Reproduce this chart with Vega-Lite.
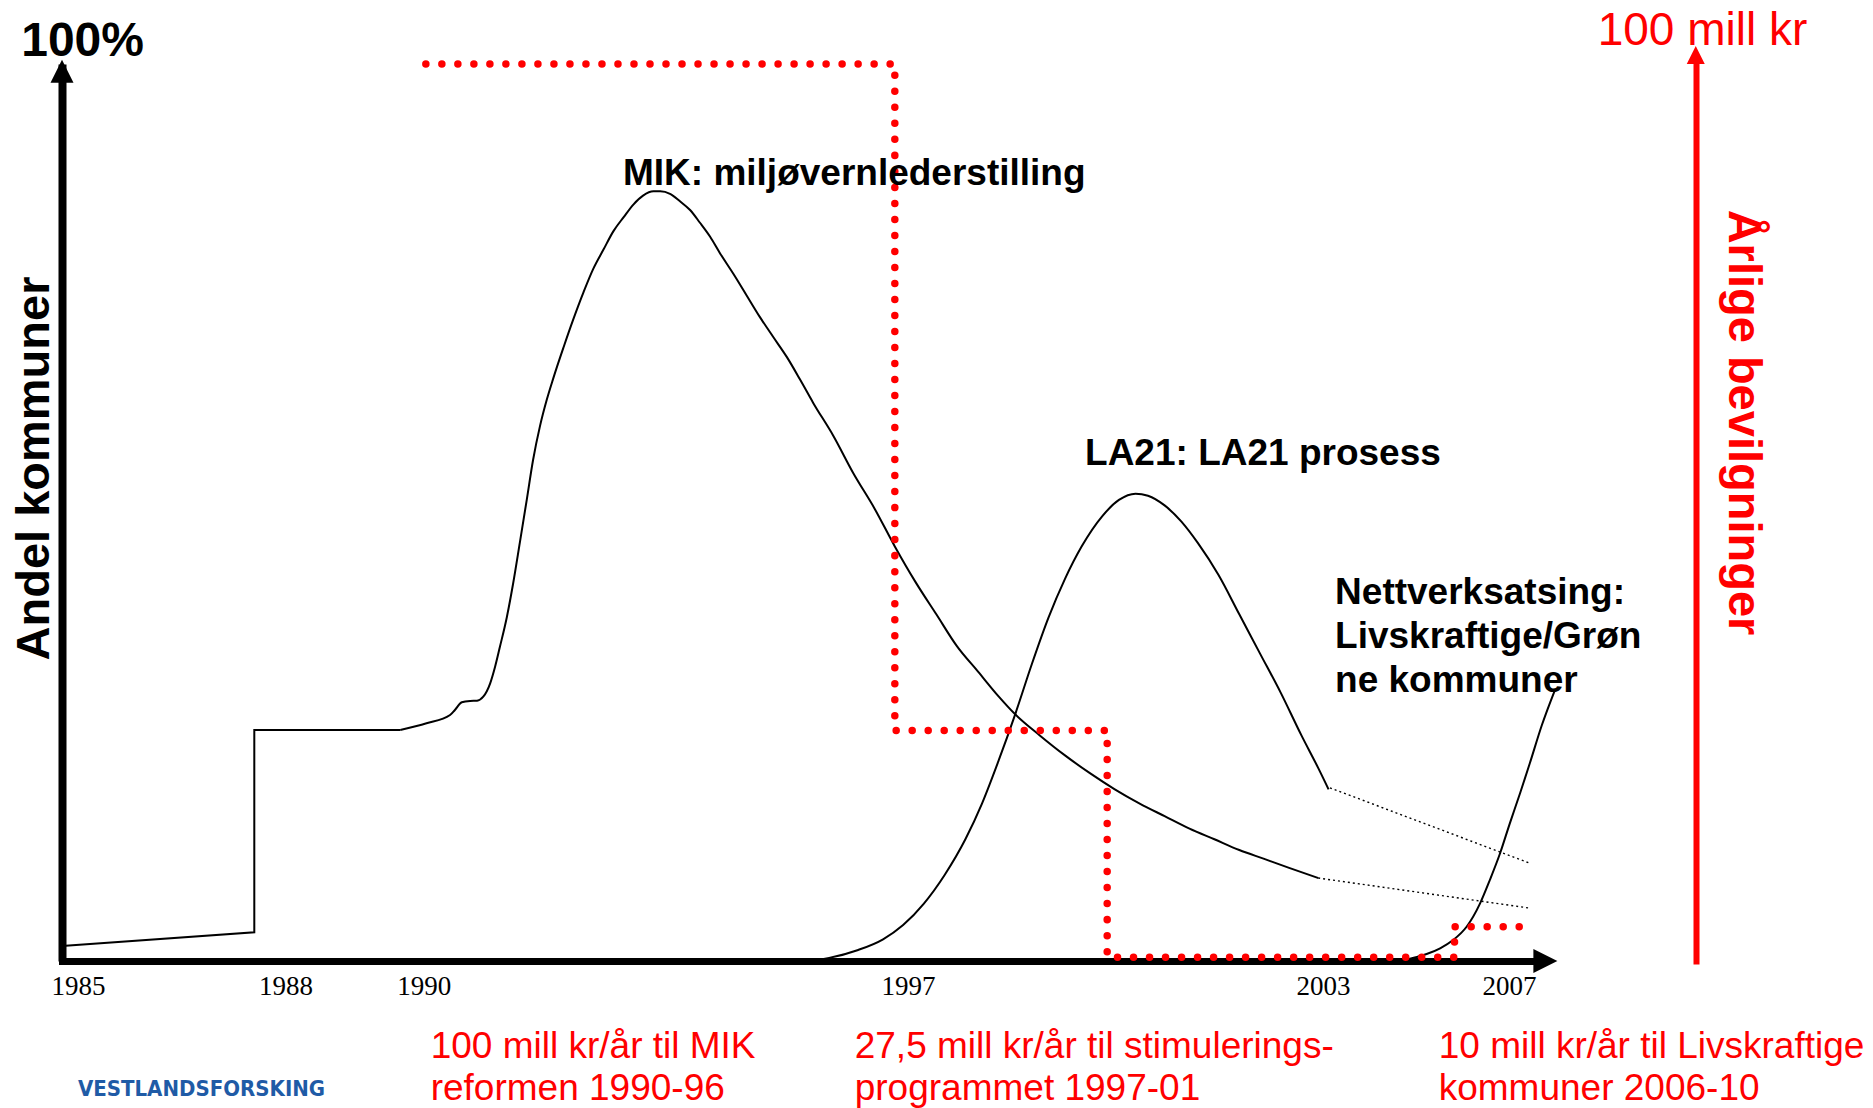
{
  "$schema": "https://vega.github.io/schema/vega-lite/v6.json",
  "width": 1472,
  "height": 897,
  "autosize": {"type": "none"},
  "padding": {"left": 62, "top": 64, "right": 339, "bottom": 147},
  "background": "white",
  "config": {"view": {"stroke": null}, "font": "Liberation Sans"},
  "datasets": {
    "curves": [
      {"series": "MIK start", "i": 0, "year": 1984.77, "value": 1.67},
      {"series": "MIK start", "i": 1, "year": 1987.55, "value": 3.2},
      {"series": "MIK start", "i": 2, "year": 1987.55, "value": 25.75},
      {"series": "MIK start", "i": 3, "year": 1989.66, "value": 25.75},
      {"series": "MIK", "i": 3, "year": 1989.66, "value": 25.75},
      {"series": "MIK", "i": 4, "year": 1990.04, "value": 26.5},
      {"series": "MIK", "i": 5, "year": 1990.38, "value": 27.42},
      {"series": "MIK", "i": 6, "year": 1990.45, "value": 27.98},
      {"series": "MIK", "i": 7, "year": 1990.55, "value": 28.84},
      {"series": "MIK", "i": 8, "year": 1990.67, "value": 28.99},
      {"series": "MIK", "i": 9, "year": 1990.77, "value": 29.02},
      {"series": "MIK", "i": 10, "year": 1990.86, "value": 29.46},
      {"series": "MIK", "i": 11, "year": 1990.96, "value": 30.96},
      {"series": "MIK", "i": 12, "year": 1991.03, "value": 32.78},
      {"series": "MIK", "i": 13, "year": 1991.1, "value": 35.0},
      {"series": "MIK", "i": 14, "year": 1991.2, "value": 38.3},
      {"series": "MIK", "i": 15, "year": 1991.29, "value": 42.0},
      {"series": "MIK", "i": 16, "year": 1991.39, "value": 46.7},
      {"series": "MIK", "i": 17, "year": 1991.49, "value": 51.47},
      {"series": "MIK", "i": 18, "year": 1991.58, "value": 55.85},
      {"series": "MIK", "i": 19, "year": 1991.68, "value": 59.63},
      {"series": "MIK", "i": 20, "year": 1991.78, "value": 62.62},
      {"series": "MIK", "i": 21, "year": 1991.87, "value": 64.9},
      {"series": "MIK", "i": 22, "year": 1992.02, "value": 68.4},
      {"series": "MIK", "i": 23, "year": 1992.16, "value": 71.5},
      {"series": "MIK", "i": 24, "year": 1992.31, "value": 74.57},
      {"series": "MIK", "i": 25, "year": 1992.45, "value": 77.16},
      {"series": "MIK", "i": 26, "year": 1992.6, "value": 79.34},
      {"series": "MIK", "i": 27, "year": 1992.74, "value": 81.34},
      {"series": "MIK", "i": 28, "year": 1992.89, "value": 82.93},
      {"series": "MIK", "i": 29, "year": 1993.03, "value": 84.33},
      {"series": "MIK", "i": 30, "year": 1993.17, "value": 85.32},
      {"series": "MIK", "i": 31, "year": 1993.32, "value": 85.8},
      {"series": "MIK", "i": 32, "year": 1993.42, "value": 85.8},
      {"series": "MIK", "i": 33, "year": 1993.56, "value": 85.52},
      {"series": "MIK", "i": 34, "year": 1993.7, "value": 84.72},
      {"series": "MIK", "i": 35, "year": 1993.85, "value": 83.72},
      {"series": "MIK", "i": 36, "year": 1993.99, "value": 82.33},
      {"series": "MIK", "i": 37, "year": 1994.14, "value": 80.74},
      {"series": "MIK", "i": 38, "year": 1994.28, "value": 78.94},
      {"series": "MIK", "i": 39, "year": 1994.48, "value": 76.56},
      {"series": "MIK", "i": 40, "year": 1994.67, "value": 74.17},
      {"series": "MIK", "i": 41, "year": 1994.86, "value": 71.78},
      {"series": "MIK", "i": 42, "year": 1995.05, "value": 69.59},
      {"series": "MIK", "i": 43, "year": 1995.25, "value": 67.32},
      {"series": "MIK", "i": 44, "year": 1995.44, "value": 64.82},
      {"series": "MIK", "i": 45, "year": 1995.63, "value": 62.22},
      {"series": "MIK", "i": 46, "year": 1995.92, "value": 58.56},
      {"series": "MIK", "i": 47, "year": 1996.21, "value": 54.38},
      {"series": "MIK", "i": 48, "year": 1996.52, "value": 50.4},
      {"series": "MIK", "i": 49, "year": 1996.81, "value": 46.22},
      {"series": "MIK", "i": 50, "year": 1997.11, "value": 42.24},
      {"series": "MIK", "i": 51, "year": 1997.41, "value": 38.65},
      {"series": "MIK", "i": 52, "year": 1997.71, "value": 35.07},
      {"series": "MIK", "i": 53, "year": 1998.01, "value": 32.29},
      {"series": "MIK", "i": 54, "year": 1998.31, "value": 29.5},
      {"series": "MIK", "i": 55, "year": 1998.55, "value": 27.5},
      {"series": "MIK", "i": 56, "year": 1998.91, "value": 25.12},
      {"series": "MIK", "i": 57, "year": 1999.27, "value": 22.92},
      {"series": "MIK", "i": 58, "year": 1999.63, "value": 20.94},
      {"series": "MIK", "i": 59, "year": 1999.99, "value": 19.14},
      {"series": "MIK", "i": 60, "year": 2000.35, "value": 17.55},
      {"series": "MIK", "i": 61, "year": 2000.71, "value": 16.15},
      {"series": "MIK", "i": 62, "year": 2001.07, "value": 14.76},
      {"series": "MIK", "i": 63, "year": 2001.43, "value": 13.57},
      {"series": "MIK", "i": 64, "year": 2001.79, "value": 12.37},
      {"series": "MIK", "i": 65, "year": 2002.15, "value": 11.38},
      {"series": "MIK", "i": 66, "year": 2002.51, "value": 10.38},
      {"series": "MIK", "i": 67, "year": 2002.93, "value": 9.25},
      {"series": "LA21", "i": 0, "year": 1995.44, "value": 0},
      {"series": "LA21", "i": 1, "year": 1995.86, "value": 0.35},
      {"series": "LA21", "i": 2, "year": 1996.28, "value": 1.23},
      {"series": "LA21", "i": 3, "year": 1996.64, "value": 2.42},
      {"series": "LA21", "i": 4, "year": 1996.93, "value": 4.01},
      {"series": "LA21", "i": 5, "year": 1997.23, "value": 6.4},
      {"series": "LA21", "i": 6, "year": 1997.53, "value": 9.59},
      {"series": "LA21", "i": 7, "year": 1997.83, "value": 13.57},
      {"series": "LA21", "i": 8, "year": 1998.07, "value": 17.55},
      {"series": "LA21", "i": 9, "year": 1998.31, "value": 22.33},
      {"series": "LA21", "i": 10, "year": 1998.55, "value": 27.5},
      {"series": "LA21", "i": 11, "year": 1998.79, "value": 33.08},
      {"series": "LA21", "i": 12, "year": 1999.03, "value": 38.25},
      {"series": "LA21", "i": 13, "year": 1999.27, "value": 42.6},
      {"series": "LA21", "i": 14, "year": 1999.51, "value": 46.2},
      {"series": "LA21", "i": 15, "year": 1999.81, "value": 49.6},
      {"series": "LA21", "i": 16, "year": 2000.05, "value": 51.4},
      {"series": "LA21", "i": 17, "year": 2000.29, "value": 52.1},
      {"series": "LA21", "i": 18, "year": 2000.47, "value": 51.87},
      {"series": "LA21", "i": 19, "year": 2000.71, "value": 50.79},
      {"series": "LA21", "i": 20, "year": 2000.95, "value": 49.01},
      {"series": "LA21", "i": 21, "year": 2001.19, "value": 46.61},
      {"series": "LA21", "i": 22, "year": 2001.49, "value": 43.03},
      {"series": "LA21", "i": 23, "year": 2001.79, "value": 38.65},
      {"series": "LA21", "i": 24, "year": 2002.09, "value": 34.27},
      {"series": "LA21", "i": 25, "year": 2002.39, "value": 29.89},
      {"series": "LA21", "i": 26, "year": 2002.69, "value": 25.12},
      {"series": "LA21", "i": 27, "year": 2002.93, "value": 21.53},
      {"series": "LA21", "i": 28, "year": 2003.12, "value": 19.14},
      {"series": "Nettverk", "i": 0, "year": 2004.66, "value": 0},
      {"series": "Nettverk", "i": 1, "year": 2005.02, "value": 0.45},
      {"series": "Nettverk", "i": 2, "year": 2005.23, "value": 0.78},
      {"series": "Nettverk", "i": 3, "year": 2005.52, "value": 1.42},
      {"series": "Nettverk", "i": 4, "year": 2005.8, "value": 2.34},
      {"series": "Nettverk", "i": 5, "year": 2006.09, "value": 3.82},
      {"series": "Nettverk", "i": 6, "year": 2006.38, "value": 6.43},
      {"series": "Nettverk", "i": 7, "year": 2006.59, "value": 9.03},
      {"series": "Nettverk", "i": 8, "year": 2006.81, "value": 12.01},
      {"series": "Nettverk", "i": 9, "year": 2007.02, "value": 15.35},
      {"series": "Nettverk", "i": 10, "year": 2007.24, "value": 18.7},
      {"series": "Nettverk", "i": 11, "year": 2007.45, "value": 22.04},
      {"series": "Nettverk", "i": 12, "year": 2007.71, "value": 26.31},
      {"series": "Nettverk", "i": 13, "year": 2007.99, "value": 30.21},
      {"series": "MIK trend", "i": 0, "year": 2002.93, "value": 9.25},
      {"series": "MIK trend", "i": 1, "year": 2007.43, "value": 5.91},
      {"series": "LA21 trend", "i": 0, "year": 2003.15, "value": 19.3},
      {"series": "LA21 trend", "i": 1, "year": 2007.47, "value": 10.86}
    ],
    "budget": [
      {"period": "MIK-reformen 1990-96", "year": 1990.03, "value": 100},
      {"period": "Stimuleringsprogrammet 1997-01", "year": 1996.81, "value": 25.71},
      {"period": "Mellomperiode", "year": 1999.88, "value": 0.41},
      {"period": "Livskraftige kommuner 2006-10", "year": 2005.83, "value": 3.82},
      {"period": "Slutt", "year": 2007.55, "value": 3.82}
    ]
  },
  "encoding": {
    "x": {
      "field": "year",
      "type": "quantitative",
      "scale": {"domain": [1984.77, 2003, 2007.54], "range": [0, 1261, 1472], "nice": false, "zero": false},
      "axis": {
        "values": [1985, 1988, 1990, 1997, 2003, 2007],
        "format": "d",
        "title": null,
        "grid": false,
        "ticks": false,
        "tickSize": 0,
        "domainColor": "black",
        "domainWidth": 7,
        "domainCap": "square",
        "labelFont": "Liberation Serif",
        "labelFontSize": 27,
        "labelColor": "black",
        "labelBaseline": "alphabetic",
        "labelPadding": 33,
        "labelFlush": false,
        "labelOverlap": false,
        "labelBound": false
      }
    }
  },
  "layer": [
    {
      "data": {"name": "curves"},
      "transform": [{"filter": "datum.series === 'MIK start'"}],
      "mark": {"type": "line", "color": "black", "strokeWidth": 2, "interpolate": "linear"},
      "encoding": {
        "y": {
          "field": "value", "type": "quantitative",
          "scale": {"domain": [0, 100], "nice": false, "zero": false},
          "axis": {
            "orient": "left", "grid": false, "ticks": false, "tickSize": 0, "labels": false,
            "domainColor": "black", "domainWidth": 8, "domainCap": "butt",
            "title": "Andel kommuner", "titleFont": "Liberation Sans", "titleFontSize": 47,
            "titleFontWeight": "bold", "titleColor": "black", "titleAngle": 270,
            "titleBaseline": "alphabetic", "titleAlign": "center", "titleX": -14, "titleY": 404
          }
        },
        "order": {"field": "i"}
      }
    },
    {
      "data": {"name": "curves"},
      "transform": [{"filter": "datum.series === 'MIK' || datum.series === 'LA21' || datum.series === 'Nettverk'"}],
      "mark": {"type": "line", "color": "black", "strokeWidth": 2, "interpolate": "monotone"},
      "encoding": {
        "y": {"field": "value", "type": "quantitative", "scale": {"domain": [0, 100], "nice": false, "zero": false}, "axis": null},
        "detail": {"field": "series"},
        "order": {"field": "i"}
      }
    },
    {
      "data": {"name": "curves"},
      "transform": [{"filter": "datum.series === 'MIK trend' || datum.series === 'LA21 trend'"}],
      "mark": {"type": "line", "color": "black", "strokeWidth": 1.4, "strokeDash": [2, 3]},
      "encoding": {
        "y": {"field": "value", "type": "quantitative", "scale": {"domain": [0, 100], "nice": false, "zero": false}, "axis": null},
        "detail": {"field": "series"},
        "order": {"field": "i"}
      }
    },
    {
      "data": {"name": "budget"},
      "mark": {"type": "line", "color": "#FF0000", "strokeWidth": 7.5, "strokeDash": [0.01, 16], "strokeCap": "round", "interpolate": "step-after"},
      "encoding": {
        "y": {
          "field": "value", "type": "quantitative",
          "scale": {"domain": [0, 100], "nice": false, "zero": false},
          "axis": {
            "orient": "right", "offset": 162, "grid": false, "ticks": false, "tickSize": 0, "labels": false,
            "domainColor": "#FF0000", "domainWidth": 6, "domainCap": "square",
            "title": "Årlige bevilgninger", "titleFont": "Liberation Sans", "titleFontSize": 47,
            "titleFontWeight": "bold", "titleColor": "#FF0000", "titleAngle": 90,
            "titleBaseline": "alphabetic", "titleAlign": "center", "titleX": 32, "titleY": 358
          }
        }
      }
    },
    {
      "data": {"values": [{"arrow": "Andel kommuner", "year": 1984.77, "value": 99.19}]},
      "mark": {"type": "point", "shape": "M0,-1L1,1L-1,1Z", "size": 529, "filled": true, "color": "black", "opacity": 1},
      "encoding": {"y": {"field": "value", "type": "quantitative", "scale": {"domain": [0, 100], "nice": false, "zero": false}, "axis": null}}
    },
    {
      "data": {"values": [{"arrow": "tid", "year": 2007.785, "value": 0}]},
      "mark": {"type": "point", "shape": "M-1,-1L1,0L-1,1Z", "size": 576, "filled": true, "color": "black", "opacity": 1},
      "encoding": {"y": {"field": "value", "type": "quantitative", "scale": {"domain": [0, 100], "nice": false, "zero": false}, "axis": null}}
    },
    {
      "data": {"values": [{"arrow": "Årlige bevilgninger", "year": 2011.02, "value": 101.0}]},
      "mark": {"type": "point", "shape": "M0,-1L1,1L-1,1Z", "size": 324, "filled": true, "color": "#FF0000", "opacity": 1},
      "encoding": {"y": {"field": "value", "type": "quantitative", "scale": {"domain": [0, 100], "nice": false, "zero": false}, "axis": null}}
    },
    {
      "data": {"values": [{"label": "100%", "year": 1984.18, "value": 100.9}]},
      "mark": {"type": "text", "font": "Liberation Sans", "fontSize": 48, "fontWeight": "bold", "color": "black", "align": "left", "baseline": "alphabetic"},
      "encoding": {
        "y": {"field": "value", "type": "quantitative", "scale": {"domain": [0, 100], "nice": false, "zero": false}, "axis": null},
        "text": {"field": "label"}
      }
    },
    {
      "data": {"values": [
        {"label": "MIK: miljøvernlederstilling", "year": 1992.88, "value": 86.51},
        {"label": "LA21: LA21 prosess", "year": 1999.56, "value": 55.3},
        {"label": "Nettverksatsing:\nLivskraftige/Grøn\nne kommuner", "year": 2003.26, "value": 39.8}
      ]},
      "mark": {"type": "text", "font": "Liberation Sans", "fontSize": 37, "fontWeight": "bold", "color": "black", "align": "left", "baseline": "alphabetic", "lineBreak": "\n", "lineHeight": 44},
      "encoding": {
        "y": {"field": "value", "type": "quantitative", "scale": {"domain": [0, 100], "nice": false, "zero": false}, "axis": null},
        "text": {"field": "label"}
      }
    },
    {
      "data": {"values": [{"label": "100 mill kr", "year": 2008.91, "value": 102.12}]},
      "mark": {"type": "text", "font": "Liberation Sans", "fontSize": 46, "color": "#FF0000", "align": "left", "baseline": "alphabetic"},
      "encoding": {
        "y": {"field": "value", "type": "quantitative", "scale": {"domain": [0, 100], "nice": false, "zero": false}, "axis": null},
        "text": {"field": "label"}
      }
    },
    {
      "data": {"values": [
        {"label": "100 mill kr/år til MIK\nreformen 1990-96", "year": 1990.1, "value": -10.81},
        {"label": "27,5 mill kr/år til stimulerings-\nprogrammet 1997-01", "year": 1996.23, "value": -10.81},
        {"label": "10 mill kr/år til Livskraftige\nkommuner 2006-10", "year": 2005.49, "value": -10.81}
      ]},
      "mark": {"type": "text", "font": "Liberation Sans", "fontSize": 37, "color": "#FF0000", "align": "left", "baseline": "alphabetic", "lineBreak": "\n", "lineHeight": 42},
      "encoding": {
        "y": {"field": "value", "type": "quantitative", "scale": {"domain": [0, 100], "nice": false, "zero": false}, "axis": null},
        "text": {"field": "label"}
      }
    },
    {
      "data": {"values": [{"label": "VESTLANDSFORSKING", "year": 1985.0, "value": -15.05}]},
      "mark": {"type": "text", "font": "DejaVu Sans Condensed, Liberation Sans Narrow, Liberation Sans", "fontSize": 22, "fontWeight": "bold", "color": "#1f5ba6", "align": "left", "baseline": "alphabetic"},
      "encoding": {
        "y": {"field": "value", "type": "quantitative", "scale": {"domain": [0, 100], "nice": false, "zero": false}, "axis": null},
        "text": {"field": "label"}
      }
    }
  ],
  "resolve": {"scale": {"y": "independent"}, "axis": {"y": "independent"}}
}
